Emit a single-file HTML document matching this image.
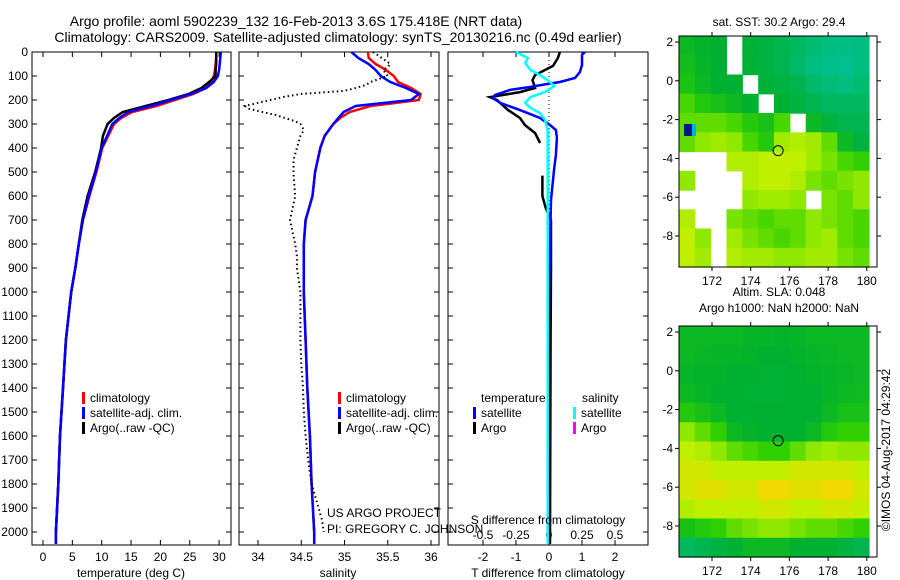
<!DOCTYPE html>
<html><head><meta charset="utf-8"><style>
html,body{margin:0;padding:0;background:#fff;}
svg{display:block;font-family:"Liberation Sans",sans-serif;}
text{font-size:12px;fill:#000;}
</style></head><body>
<svg id="fig" width="900" height="580" viewBox="0 0 900 580" xmlns="http://www.w3.org/2000/svg">
<rect width="900" height="580" fill="#fff"/>
<text x="296" y="26" text-anchor="middle" style="font-size:14px">Argo profile: aoml 5902239_132 16-Feb-2013 3.6S 175.418E (NRT data)</text>
<text x="338" y="42" text-anchor="middle" style="font-size:14px">Climatology: CARS2009. Satellite-adjusted climatology: synTS_20130216.nc (0.49d earlier)</text>
<g id="g"></g>
</svg>
<script>
// ---------- data ----------
const depthTicks=[0,100,200,300,400,500,600,700,800,900,1000,1100,1200,1300,1400,1500,1600,1700,1800,1900,2000];
const tTicks=[0,5,10,15,20,25,30];
const sTicks=[34,34.5,35,35.5,36];
const sTickLabels=["34","34.5","35","35.5","36"];
const dTTicks=[-2,-1,0,1,2];
const dSTicks=[-0.5,-0.25,0,0.25,0.5];
const profDepth=[0,25,50,75,100,125,150,175,200,225,250,275,300,350,400,500,600,700,800,900,1000,1200,1400,1600,1800,2000,2050];
const tempClim=[29.5,29.5,29.4,29.3,29.1,28.7,27.8,25.6,22.5,19.3,15.2,13.3,12.1,11.1,10.1,9.1,7.9,6.8,6.1,5.5,4.8,3.9,3.4,2.9,2.6,2.2,2.2];
const tempSat=[30.3,30.2,30.1,30.0,29.8,29.1,27.8,25.2,21.8,18.4,14.5,13.0,11.8,10.9,10.0,9.0,7.8,6.8,6.1,5.5,4.8,3.9,3.4,2.9,2.6,2.2,2.2];
const tempArgo=[29.5,29.5,29.5,29.4,29.4,28.3,27.0,24.8,21.4,17.5,13.6,12.1,11.0,10.2,9.9,8.9,7.6,6.7,6.1,5.5,4.8,3.9,3.4,2.9,2.6,2.2,null];
const salClim=[35.27,35.28,35.36,35.48,35.57,35.62,35.77,35.88,35.86,35.3,35.06,34.95,34.87,34.77,34.72,34.66,34.63,34.55,34.53,34.53,34.53,34.55,34.57,34.6,34.62,34.65,34.65];
const salSat=[35.08,35.16,35.28,35.36,35.42,35.53,35.71,35.86,35.77,35.13,34.99,34.93,34.87,34.77,34.72,34.66,34.63,34.55,34.53,34.53,34.53,34.55,34.57,34.6,34.62,34.65,34.65];
const argoSDepth=[0,12,25,37,50,62,75,87,100,112,125,137,150,162,175,187,200,212,225,237,250,262,275,287,300,325,350,375,400,450,500,550,600,650,700,750,800,850,900,950,1000,1100,1200,1300,1400,1500,1600,1700,1800,1850,1900,1950,2000];
const argoS=[35.33,35.38,35.43,35.48,35.53,35.5,35.45,35.47,35.5,35.4,35.3,35.25,35.13,35.0,34.49,34.3,34.14,34.0,33.85,33.9,34.05,34.2,34.31,34.42,34.49,34.53,34.49,34.47,34.45,34.41,34.41,34.42,34.43,34.4,34.37,34.4,34.43,34.45,34.45,34.47,34.49,34.49,34.49,34.5,34.52,34.53,34.55,34.58,34.62,34.66,34.7,34.74,34.76];
const dTSatDepth=[0,12,54,83,108,125,133,146,158,179,192,212,242,275,304,325,358,429,492,617,800,1000,1500,2050];
const dTSat=[1.09,1.0,1.0,0.94,0.79,0.33,-0.03,-0.58,-1.18,-1.64,-1.70,-1.48,-0.88,-0.27,0.03,0.21,0.24,0.21,0.15,0.06,0.03,0.0,-0.03,-0.03];
const dTArgoDepth=[0,25,58,75,96,117,150,167,188,200,242,275,304,338,379,400,515,600,650,700,900,1200,2050];
const dTArgo=[0.33,0.27,0.12,-0.12,-0.42,-0.5,-0.42,-0.88,-1.79,-1.58,-1.24,-0.88,-0.73,-0.42,-0.27,null,-0.2,-0.2,-0.1,0.06,0.06,0.05,0.03];
const dSSatDepth=[0,25,46,75,96,117,142,167,188,212,233,254,283,325,600,2050];
const dSSat=[-0.25,-0.16,-0.18,-0.14,-0.07,-0.01,0.04,-0.03,-0.14,-0.18,-0.14,-0.07,-0.03,-0.01,-0.01,-0.01];
const lonTicks=[172,174,176,178,180];
const latTicks=[2,0,-2,-4,-6,-8];
const argoLon=175.418, argoLat=-3.6;
const sstGrid=[
[0.35,0.32,0.3,-1,0.28,0.25,0.2,0.15,0.1,0.05,0.03,0.05],
[0.38,0.33,0.3,-1,0.28,0.25,0.2,0.12,0.05,0.02,0.0,0.05],
[0.42,0.35,0.3,0.3,-1,0.28,0.25,0.2,0.12,0.08,0.05,0.1],
[0.55,0.45,0.4,0.35,0.3,-1,0.3,0.25,0.2,0.15,0.15,0.15],
[0.6,0.6,0.6,0.55,0.45,0.4,0.55,-1,0.35,0.25,0.2,0.2],
[0.6,0.7,0.75,0.7,0.55,0.45,0.75,0.8,0.75,0.6,0.35,0.25],
[-1,-1,-1,0.8,0.8,0.85,0.85,0.85,0.75,0.65,0.55,0.5],
[0.7,-1,-1,-1,0.8,0.85,0.85,0.8,0.65,0.6,0.65,0.7],
[-1,-1,-1,-1,0.7,0.75,0.75,0.7,-1,0.65,0.6,0.7],
[0.8,-1,-1,0.65,0.6,0.55,0.6,0.6,0.7,0.65,0.6,0.55],
[0.85,0.7,-1,0.75,0.65,0.6,0.55,0.6,0.7,0.75,0.6,0.55],
[0.85,0.75,-1,0.8,0.75,0.75,0.7,0.7,0.75,0.75,0.65,0.6]];
const slaGrid=[
[0.35,0.35,0.35,0.35,0.33,0.33,0.32,0.33,0.35,0.35,0.35,0.35],
[0.35,0.34,0.33,0.33,0.32,0.3,0.3,0.32,0.33,0.34,0.35,0.35],
[0.33,0.32,0.32,0.3,0.3,0.28,0.28,0.3,0.32,0.33,0.34,0.35],
[0.35,0.33,0.3,0.3,0.28,0.28,0.28,0.3,0.3,0.33,0.35,0.36],
[0.45,0.4,0.35,0.3,0.3,0.3,0.3,0.3,0.3,0.35,0.4,0.4],
[0.7,0.6,0.5,0.35,0.32,0.3,0.3,0.3,0.35,0.45,0.5,0.5],
[0.85,0.8,0.7,0.6,0.55,0.5,0.5,0.6,0.7,0.75,0.7,0.7],
[0.9,0.9,0.85,0.85,0.85,0.85,0.85,0.9,0.9,0.9,0.9,0.85],
[0.9,0.95,0.95,0.9,0.9,1,1,0.95,0.95,1,1,0.9],
[0.8,0.85,0.85,0.85,0.85,0.9,0.9,0.85,0.85,0.9,0.9,0.85],
[0.4,0.45,0.5,0.6,0.65,0.7,0.7,0.65,0.6,0.6,0.55,0.5],
[0.15,0.2,0.25,0.3,0.35,0.35,0.35,0.3,0.3,0.3,0.25,0.2]];

// ---------- helpers ----------
const NS="http://www.w3.org/2000/svg";
const G=document.getElementById('g');
function mk(tag,attrs,parent){const e=document.createElementNS(NS,tag);for(const k in attrs)e.setAttribute(k,attrs[k]);(parent||G).appendChild(e);return e;}
function txt(x,y,s,anchor,parent){const e=mk('text',{x:x,y:y,'text-anchor':anchor||'start'},parent);e.textContent=s;return e;}
const PT=52,PB=545;
const yD=d=>52+d*0.24;
function panelBox(x0,x1,name){
  const r=mk('rect',{x:x0,y:PT,width:x1-x0,height:PB-PT,fill:'none',stroke:'#000','stroke-width':1});
  
  
  depthTicks.forEach(d=>{mk('line',{x1:x0,x2:x0+5,y1:yD(d),y2:yD(d),stroke:'#000'});mk('line',{x1:x1-5,x2:x1,y1:yD(d),y2:yD(d),stroke:'#000'});});
}
function line(depths,vals,xf,color,w,name,dotted){
  let d='',pen=false;
  for(let i=0;i<depths.length;i++){
    if(vals[i]===null||vals[i]===undefined){pen=false;continue;}
    const x=xf(vals[i]).toFixed(1),y=yD(depths[i]).toFixed(1);
    d+=(pen?'L':'M')+x+' '+y;pen=true;
  }
  const p=mk('path',{d:d,fill:'none',stroke:color,'stroke-width':w});
  if(dotted)p.setAttribute('stroke-dasharray','1.5 3');
  
  
}
function legendEntry(x,y,color,label,name){
  const g=mk('g',{});
  
  
  mk('rect',{x:x,y:y-10,width:3,height:12,fill:color},g);
  txt(x+8,y,label,'start',g);
}

// ---------- panel 1: temperature ----------
const xT=t=>43+t*5.87;
panelBox(32,231,'temperature-panel');
depthTicks.forEach(d=>{const e=txt(28,yD(d)+4,String(d),'end');});
tTicks.forEach(t=>{mk('line',{x1:xT(t),x2:xT(t),y1:PB,y2:PB-5,stroke:'#000'});mk('line',{x1:xT(t),x2:xT(t),y1:PT,y2:PT+5,stroke:'#000'});txt(xT(t),561,String(t),'middle');});
{const e=txt(131,577,'temperature (deg C)','middle');}
line(profDepth,tempClim,xT,'#f00',2.5,'temp-climatology-line');
line(profDepth,tempArgo,xT,'#000',2.5,'temp-argo-line');
line(profDepth,tempSat,xT,'#00f',2.5,'temp-satellite-line');
legendEntry(82,402,'#f00','climatology','legend-climatology');
legendEntry(82,417,'#00f','satellite-adj. clim.','legend-satellite');
legendEntry(82,432,'#000','Argo(..raw -QC)','legend-argo');

// ---------- panel 2: salinity ----------
const xS=s=>258+(s-34)*86.5;
panelBox(239,439,'salinity-panel');
sTicks.forEach((s,i)=>{mk('line',{x1:xS(s),x2:xS(s),y1:PB,y2:PB-5,stroke:'#000'});mk('line',{x1:xS(s),x2:xS(s),y1:PT,y2:PT+5,stroke:'#000'});txt(xS(s),561,sTickLabels[i],'middle');});
{const e=txt(338,577,'salinity','middle');}
line(profDepth,salClim,xS,'#f00',2.5,'sal-climatology-line');
line(profDepth,salSat,xS,'#00f',2.5,'sal-satellite-line');
line(argoSDepth,argoS,xS,'#000',2,'sal-argo-dotted-line',true);
legendEntry(338,402,'#f00','climatology','legend-sal-climatology');
legendEntry(338,417,'#00f','satellite-adj. clim.','legend-sal-satellite');
legendEntry(338,432,'#000','Argo(..raw -QC)','legend-sal-argo');
{const e=txt(327,517,'US ARGO PROJECT');}
{const e=txt(327,533,'PI: GREGORY C. JOHNSON');}

// ---------- panel 3: differences ----------
const xdT=v=>549+v*33;
const xdS=v=>549+v*132;
panelBox(448,648,'difference-panel');
dTTicks.forEach(v=>{mk('line',{x1:xdT(v),x2:xdT(v),y1:PB,y2:PB-5,stroke:'#000'});mk('line',{x1:xdT(v),x2:xdT(v),y1:PT,y2:PT+5,stroke:'#000'});txt(xdT(v),561,String(v),'middle');});
dSTicks.forEach(v=>{txt(xdS(v),539,String(v),'middle');});
mk('line',{x1:549,x2:549,y1:PT,y2:PB,stroke:'#000','stroke-dasharray':'1 3'});
line(dTArgoDepth,dTArgo,xdT,'#000',2.5,'dT-argo-line');
line(dTSatDepth,dTSat,xdT,'#00f',2.5,'dT-satellite-line');
line(dSSatDepth,dSSat,xdS,'#0ff',2.5,'dS-satellite-line');
{const e=txt(548,524,'S difference from climatology','middle');}
{const e=txt(548,577,'T difference from climatology','middle');}
txt(481,402,'temperature');txt(582,402,'salinity');
legendEntry(473,417,'#00f','satellite','legend-dT-satellite');
legendEntry(473,432,'#000','Argo','legend-dT-argo');
legendEntry(573,417,'#0ff','satellite','legend-dS-satellite');
legendEntry(573,432,'#f0f','Argo','legend-dS-argo');

// ---------- maps ----------
const stops=[[0,[0,192,144]],[0.3,[0,176,48]],[0.5,[48,208,0]],[0.7,[144,232,0]],[0.85,[192,240,0]],[1,[240,216,0]]];
function cmap(v){for(let i=1;i<stops.length;i++){if(v<=stops[i][0]){const a=stops[i-1],b=stops[i],f=(v-a[0])/(b[0]-a[0]);const c=a[1].map((x,k)=>Math.round(x+(b[1][k]-x)*f));return 'rgb('+c.join(',')+')';}}return 'rgb(240,216,0)';}
function drawMap(top,grid,name,title1,title2){
  const x0=679,x1=877,dataR=869,bot=top+231;
  const lonX=l=>712+(l-172)*19.35;
  const latY=l=>top+6+(2-l)*19.4;
  const g=mk('g',{});
  
  
  const rows=grid.length,cols=grid[0].length,cw=(dataR-x0)/cols,ch=(bot-top)/rows;
  grid.forEach((row,r)=>row.forEach((v,c)=>{
    if(v<0)return;
    const cell=mk('rect',{x:(x0+c*cw).toFixed(1),y:(top+r*ch).toFixed(1),width:(cw+0.6).toFixed(1),height:(ch+0.6).toFixed(1),fill:cmap(v)},g);
    
    
  }));
  mk('rect',{x:x0,y:top,width:x1-x0,height:bot-top,fill:'none',stroke:'#000'},g);
  lonTicks.forEach(l=>{const x=lonX(l);mk('line',{x1:x,x2:x,y1:bot,y2:bot+4,stroke:'#000'},g);mk('line',{x1:x,x2:x,y1:top,y2:top-4,stroke:'#000'},g);txt(x,bot+18,String(l),'middle',g);});
  latTicks.forEach(l=>{const y=latY(l);mk('line',{x1:x0,x2:x0-4,y1:y,y2:y,stroke:'#000'},g);mk('line',{x1:x1,x2:x1+4,y1:y,y2:y,stroke:'#000'},g);txt(673,y+4,String(l),'end',g);});
  const m=mk('circle',{cx:lonX(argoLon),cy:latY(argoLat),r:5,fill:'none',stroke:'#000'},g);
  
  
  if(title2){txt(779,top-30,title1,'middle',g);txt(779,top-14,title2,'middle',g);}
  else txt(779,top-10,title1,'middle',g);
}
drawMap(36,sstGrid,'sst-map','sat. SST: 30.2 Argo: 29.4');
{const b=mk('rect',{x:684,y:124,width:8,height:12,fill:'#001a80'});mk('rect',{x:692,y:124,width:4,height:12,fill:'#00b0f0'});}
drawMap(326,slaGrid,'sla-map','Altim. SLA: 0.048','Argo h1000: NaN h2000: NaN');
{const e=txt(0,0,'©IMOS 04-Aug-2017 04:29:42','middle');e.setAttribute('transform','translate(890,450) rotate(-90)');}
</script>
</body></html>
